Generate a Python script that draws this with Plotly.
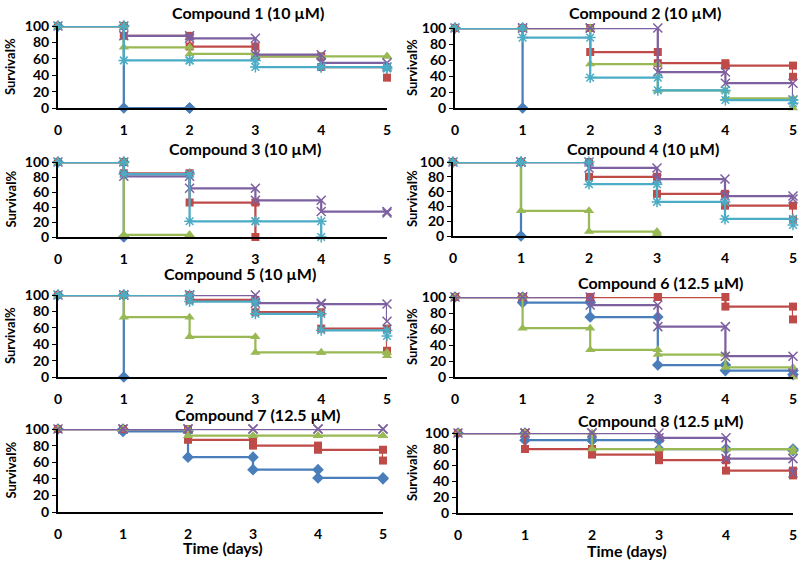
import plotly.graph_objects as go

days = [0, 1, 2, 3, 4, 5]
titles = ["Compound 1 (10 µM)", "Compound 2 (10 µM)", "Compound 3 (10 µM)", "Compound 4 (10 µM)",
          "Compound 5 (10 µM)", "Compound 6 (12.5 µM)", "Compound 7 (12.5 µM)", "Compound 8 (12.5 µM)"]
y_ticks = [0, 20, 40, 60, 80, 100]

# survival (%) after the step at each day; None = series ended
blue = [
    [100, 0, 0, None, None, None],
    [100, 0, None, None, None, None],
    [100, 0, None, None, None, None],
    [100, 0, None, None, None, None],
    [100, 0, None, None, None, None],
    [100, 93, 75, 15, 8, 3],
    [100, 97, 66, 51, 41, 40],
    [100, 91, 91, 80, 80, 78],
]
red = [
    [100, 88, 75, 63, 50, 37],
    [100, 100, 70, 56, 53, 39],
    [100, 85, 46, 0, None, None],
    [100, 100, 80, 57, 41, 22],
    [100, 100, 94, 79, 59, 32],
    [100, 100, 100, 100, 88, 72],
    [100, 100, 87, 80, 75, 62],
    [100, 80, 73, 66, 53, 47],
]
green = [
    [100, 74, 66, 63, 63, 63],
    [100, 100, 55, 22, 12, 0],
    [100, 3, 3, None, None, None],
    [100, 34, 6, 3, None, None],
    [100, 73, 49, 30, 30, 26],
    [100, 61, 34, 28, 12, 0],
    [100, 100, 92, 92, 92, 92],
    [100, 100, 80, 80, 80, 76],
]
purple = [
    [100, 88, 85, 65, 55, 50],
    [100, 100, 100, 45, 31, 10],
    [100, 81, 65, 49, 34, 32],
    [100, 100, 92, 77, 54, 50],
    [100, 100, 100, 90, 89, 68],
    [100, 100, 90, 63, 26, 5],
    [100, 100, 100, 100, 100, 100],
    [100, 100, 100, 94, 68, 50],
]
cyan = [
    [100, 58, 58, 50, 50, 48],
    [100, 88, 38, 22, 10, 6],
    [100, 84, 21, 21, 0, None],
    [100, 100, 70, 46, 23, 15],
    [100, 100, 92, 77, 57, 50],
    None,
    None,
    None,
]

series = [
    (blue, "#4A7EBB", dict(symbol="diamond", size=9)),
    (red, "#BE4B48", dict(symbol="square", size=8)),
    (green, "#98B954", dict(symbol="triangle-up", size=9)),
    (purple, "#7D60A0", dict(symbol="x-thin", size=9, line=dict(width=1.5, color="#7D60A0"))),
    (cyan, "#4BACC6", dict(symbol="asterisk", size=9, line=dict(width=1.5, color="#4BACC6"))),
]

# panel pixel boxes (page coordinates): x0, x1, ytop(100), ybottom(0)
boxes = [
    (58, 387, 26, 108), (455, 793, 28, 108),
    (58, 387, 162, 237), (453, 793, 162, 236),
    (58, 387, 295, 377), (455, 793, 297, 377),
    (58, 383, 429, 512), (458, 793, 433, 513),
]
title_pos = [(248, 12), (645, 12), (245, 148), (643, 148), (240, 273), (660, 282), (257, 414), (660, 420)]
W, H = 800, 566
FONT = "Lato"


def px(x):
    return x / W


def py(y):
    return 1 - y / H


fig = go.Figure()
layout = dict(template="none", width=W, height=H, margin=dict(l=0, r=0, t=0, b=0, autoexpand=False),
              plot_bgcolor="white", paper_bgcolor="white", showlegend=False, annotations=[])


def step_xy(vals):
    xs, ys = [days[0]], [vals[0]]
    for i in range(1, len(vals)):
        if vals[i] is None:
            break
        xs += [days[i], days[i]]
        ys += [vals[i - 1], vals[i]]
        if i + 1 < len(vals) and vals[i + 1] is None:
            break
    return xs, ys


def note(text, x, y, size, angle=0):
    return dict(text=text, x=px(x), y=py(y), xref="paper", yref="paper", xanchor="center",
                yanchor="middle", showarrow=False, textangle=angle,
                font=dict(family=FONT, size=size, color="black", weight="bold"))


for p in range(8):
    ax = "" if p == 0 else str(p + 1)
    x0, x1, yt, yb = boxes[p]
    layout["xaxis" + ax] = dict(domain=[px(x0), px(x1)], range=[0, 5], anchor="y" + ax, automargin=False,
                                tickvals=days, showgrid=False, zeroline=False, showline=True,
                                linecolor="black", linewidth=2, ticks="", ticklabelstandoff=8,
                                tickfont=dict(family=FONT, size=14, color="black", weight="bold"))
    layout["yaxis" + ax] = dict(domain=[py(yb), py(yt)], range=[0, 100], anchor="x" + ax,
                                automargin=False,
                                tickvals=y_ticks, showgrid=False, zeroline=False, showline=True,
                                linecolor="black", linewidth=2, ticks="outside", ticklen=4,
                                tickcolor="black", tickwidth=1,
                                tickfont=dict(family=FONT, size=14, color="black", weight="bold"))
    for data, color, mk in series:
        vals = data[p]
        if vals is None:
            continue
        xs, ys = step_xy(vals)
        fig.add_trace(go.Scatter(x=xs, y=ys, mode="lines+markers", xaxis="x" + ax, yaxis="y" + ax,
                                 line=dict(color=color, width=2.25), marker=dict(color=color, **mk),
                                 cliponaxis=False, hoverinfo="skip"))
    tx, ty = title_pos[p]
    layout["annotations"].append(note(titles[p], tx, ty, 16))
    yl_x = 10 if p % 2 == 0 else 412
    layout["annotations"].append(note("Survival%", yl_x, (yt + yb) / 2, 13, -90))

for tx, ty in [(223, 547), (627, 550)]:
    layout["annotations"].append(note("Time (days)", tx, ty, 16))

fig.update_layout(**layout)
fig.write_html("out.html", config={"displayModeBar": False},
               post_script="document.body.style.margin='0px';")
